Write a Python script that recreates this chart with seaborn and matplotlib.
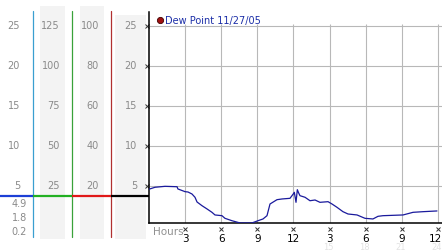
import matplotlib
matplotlib.use("Agg")
import matplotlib.pyplot as plt
import matplotlib.transforms as mtransforms
import seaborn as sns
import pandas as pd

# ---- data ----
hours = [0, 0.5, 1.33, 2.33, 2.4, 3.0, 3.24, 3.57, 3.82, 3.99, 4.4, 4.82, 5.23, 5.48,
         6.06, 6.31, 6.89, 7.56, 8.55, 9.05, 9.47, 9.8, 10.05, 10.63, 11.05, 11.71,
         11.98, 12.07, 12.21, 12.32, 12.43, 12.54, 12.96, 13.37, 13.79, 14.2, 14.87,
         15.2, 15.61, 16.11, 16.53, 17.28, 17.94, 18.6, 19.02, 19.44, 21.1, 21.93,
         22.76, 23.92]
dew_point = [4.6, 4.84, 4.96, 4.91, 4.63, 4.29, 4.25, 4.0, 3.59, 3.0, 2.54, 2.13, 1.71,
             1.38, 1.29, 0.96, 0.66, 0.38, 0.38, 0.66, 0.88, 1.29, 2.75, 3.29, 3.38,
             3.46, 4.0, 4.21, 2.96, 4.54, 4.13, 3.79, 3.59, 3.16, 3.25, 2.96, 3.04,
             2.75, 2.34, 1.79, 1.5, 1.38, 0.96, 0.88, 1.21, 1.29, 1.38, 1.71, 1.79, 1.88]
series_label = "Dew Point 11/27/05"

y_ticks = [25, 20, 15, 10, 5]
scale_cols = [["25", "20", "15", "10", "5"],
              ["125", "100", "75", "50", "25"],
              ["100", "80", "60", "40", "20"],
              ["25", "20", "15", "10", "5"]]
stats_labels = ["4.9", "1.8", "0.2"]
x_ticks = [3, 6, 9, 12, 15, 18, 21, 24]
x_tick_labels = ["3", "6", "9", "12", "3", "6", "9", "12"]
faint_ticks = [15, 18, 21, 24]
faint_labels = ["15", "18", "21", "24"]
x_title = "Hours"

# ---- figure ----
W, H = 442, 253
DPI = 100
sns.set_theme(style="white")
plt.rcParams['font.family'] = ['DejaVu Sans']
fig = plt.figure(figsize=(W / DPI, H / DPI), dpi=DPI)

def v2px(v):
    return 227 - 8 * v

# background pixel axes
bg = fig.add_axes([0, 0, 1, 1])
bg.set_xlim(0, W)
bg.set_ylim(H, 0)
bg.axis("off")

shade = "#f3f3f3"
for (x0, x1, y0) in [(40, 65, 7), (80, 104, 7), (115, 146, 16)]:
    bg.fill_between([x0, x1], [y0, y0], [240, 240], color=shade, lw=0, zorder=0)

# vertical scale lines
for xv, col in [(33, "#3a9fd0"), (72, "#3aa23a"), (111, "#b03030")]:
    bg.plot([xv, xv], [12, 238], color=col, lw=0.9, zorder=2)

# horizontal current-value line
hy = 197
for (x0, x1, col) in [(0, 33, "#1c3fd6"), (33, 72, "#22b022"), (72, 111, "#e01818"), (111, 149, "#000000")]:
    bg.plot([x0, x1], [hy, hy], color=col, lw=1.6, zorder=3, solid_capstyle="butt")

label_color = "#8a8a8a"
right_edges = [20, 60, 99, 137]
for col_labels, xr in zip(scale_cols, right_edges):
    for lab, v in zip(col_labels, y_ticks):
        bg.text(xr, v2px(v) - 1, lab, ha="right", va="center", fontsize=7, color=label_color)
for lab, yp in zip(stats_labels, [204, 218, 232]):
    bg.text(27, yp, lab, ha="right", va="center", fontsize=7, color=label_color)

# legend
bg.plot([160], [21], marker="o", ms=4.5, color="#a01010", mec="#400000", mew=0.6)
bg.text(165, 21, series_label, ha="left", va="center", fontsize=7, color="#1c2fa8")

# main axes
ax_left, ax_right, ax_top, ax_bot = 149, 442, 13, 224
ax = fig.add_axes([ax_left / W, 1 - ax_bot / H, (ax_right - ax_left) / W, (ax_bot - ax_top) / H])
ax.set_facecolor("none")
px_per_hour = 12.04
ax.set_xlim(0, (ax_right - ax_left) / px_per_hour)
ax.set_ylim((227 - ax_bot) / 8, (227 - ax_top) / 8)

grid_c = "#b8b8b8"
for v in y_ticks:
    ax.axhline(v, color=grid_c, lw=0.8, zorder=1)
ax.vlines(x_ticks, ax.get_ylim()[0], 25.25, color=grid_c, lw=0.8, zorder=1)

df = pd.DataFrame({"Hour": hours, "Dew Point": dew_point})
sns.lineplot(data=df, x="Hour", y="Dew Point", ax=ax, color="#1a1a9c", lw=0.9,
             estimator=None, sort=False, zorder=3)

for s in ["top", "right"]:
    ax.spines[s].set_visible(False)
for s in ["left", "bottom"]:
    ax.spines[s].set_color("black")
    ax.spines[s].set_linewidth(1.1)
ax.set_xlabel("")
ax.set_ylabel("")
ax.set_yticks([])
ax.set_xticks(x_ticks)
ax.set_xticklabels(x_tick_labels, fontsize=7.5, color="black")
ax.tick_params(axis="x", length=0, pad=7)
last = ax.get_xticklabels()[-1]
last.set_transform(last.get_transform() +
                   mtransforms.ScaledTranslation(-3 / DPI, 0, fig.dpi_scale_trans))

# small x markers
ax.plot(x_ticks, [-0.028] * len(x_ticks), "x", ms=2.2, mew=0.7, color="#333333",
        transform=ax.get_xaxis_transform(), clip_on=False)
ax.plot([-0.008] * len(y_ticks), y_ticks, "x", ms=2.2, mew=0.7, color="#333333",
        transform=ax.get_yaxis_transform(), clip_on=False)

ax.text(4 / (ax_right - ax_left), -(232 - ax_bot) / (ax_bot - ax_top), x_title,
        transform=ax.transAxes, ha="left", va="center", fontsize=7.5, color="#909090")
for t, lab in zip(faint_ticks, faint_labels):
    ax.text(t - 0.12, -(248 - ax_bot) / (ax_bot - ax_top), lab, transform=ax.get_xaxis_transform(),
            ha="center", va="center", fontsize=6, color="#e2e2e2")

fig.savefig("out.png", dpi=DPI)
